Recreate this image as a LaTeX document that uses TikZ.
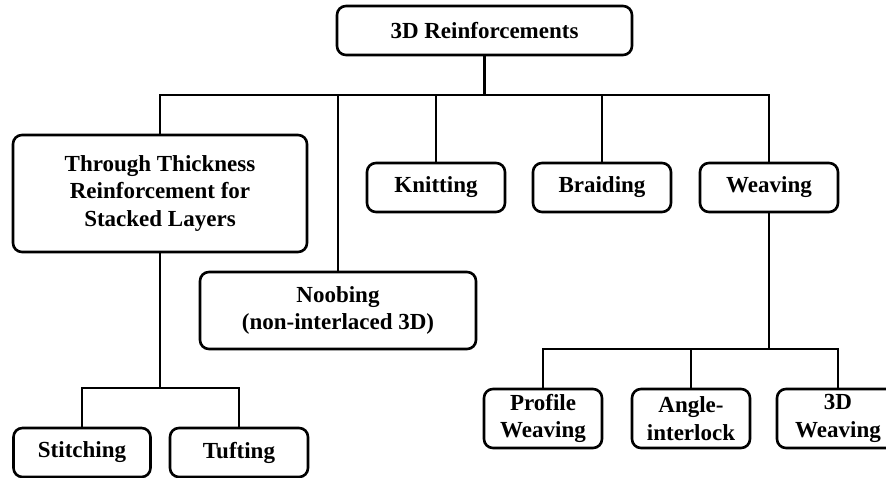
\documentclass[tikz,border=0pt]{standalone}
\usepackage{fontspec}
\setmainfont{Liberation Serif}
\usepackage{tikz}
\usetikzlibrary{positioning}

\tikzset{
  catbox/.style={draw, line width=2.6pt, rounded corners=9pt, align=center,
    inner sep=0pt, font=\fontsize{23}{27.5}\selectfont\bfseries},
  link/.style={line width=2.6pt}
}

\begin{document}
\begin{tikzpicture}[x=1pt, y=-1pt] % 3D reinforcement tree

      \useasboundingbox (0,0) rectangle (886,478);

      % boxes
      \node [catbox, minimum width=295pt, minimum height=49pt] (top) at (484.5,30.5) {3D Reinforcements};
      \node [catbox, minimum width=294pt, minimum height=117pt] (tt) at (160,193.5)
        {Through Thickness\\Reinforcement for\\Stacked Layers};
      \node [catbox, minimum width=138pt, minimum height=49pt] (knit) at (436,187.5) {Knitting};
      \node [catbox, minimum width=138pt, minimum height=49pt] (braid) at (602,187.5) {Braiding};
      \node [catbox, minimum width=138pt, minimum height=49pt] (weave) at (769,187.5) {Weaving};
      \node [catbox, minimum width=276pt, minimum height=77pt] (noob) at (338,310.5)
        {Noobing\\(non-interlaced 3D)};
      \node [catbox, minimum width=137pt, minimum height=49pt] (stitch) at (82,452.5) {Stitching};
      \node [catbox, minimum width=138pt, minimum height=49pt] (tuft) at (239,452.5) {Tufting};
      \node [catbox, minimum width=118pt, minimum height=59pt] (prof) at (543,418.5) {Profile\\Weaving};
      \node [catbox, minimum width=118pt, minimum height=59pt] (angle) at (691,418.5) {Angle-\\interlock};
      \node [catbox, minimum width=122pt, minimum height=59pt] (threed) at (838,418.5) {3D\\Weaving};

      \coordinate (bus) at (0,95);
      \coordinate (wbus) at (0,349);
      \coordinate (tbus) at (0,388);

      % first level
      \draw [link] (top.south) -- (top.south |- bus);
      \draw [link] (tt.north) -- (tt.north |- bus) -- (weave.north |- bus) -- (weave.north);
      \draw [link] (noob.north) -- (noob.north |- bus);
      \draw [link] (knit.north) -- (knit.north |- bus);
      \draw [link] (braid.north) -- (braid.north |- bus);

      % weaving branch
      \draw [link] (weave.south) -- (weave.south |- wbus);
      \draw [link] (prof.north) -- (prof.north |- wbus) -- (threed.north |- wbus) -- (threed.north);
      \draw [link] (angle.north) -- (angle.north |- wbus);

      % stacked layers branch
      \draw [link] (tt.south) -- (tt.south |- tbus);
      \draw [link] (stitch.north) -- (stitch.north |- tbus) -- (tuft.north |- tbus) -- (tuft.north);

    \end{tikzpicture}
\end{document}
